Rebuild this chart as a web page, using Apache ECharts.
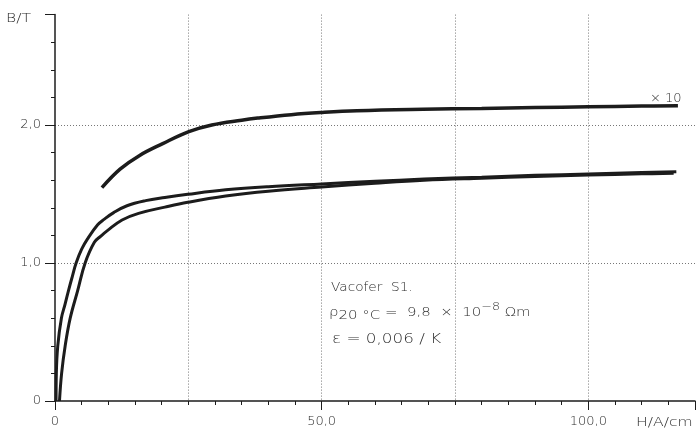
<!DOCTYPE html>
<html>
<head>
<meta charset="utf-8">
<script src="https://cdn.jsdelivr.net/npm/echarts@6/dist/echarts.min.js"></script>
<style>
  html, body { margin: 0; padding: 0; background: #fff; }
  #chart { width: 698px; height: 444px; }
</style>
</head>
<body>
<div id="chart"></div>
<script>
// Magnetisation curves B(H) of Vacofer S1 (H in A/cm, B in T)

// lower pair of curves, left branch
const hLowerA = [0.2, 0.25, 0.52, 1.2, 1.88, 2.53, 3.23, 3.96, 5.0, 6.1, 8.0, 9.2, 11.0, 13.5, 17.0, 20.6, 24.9, 32.0, 40.0, 50.0, 60.0, 69.2, 80.0, 90.0, 100.0, 110.0, 116.5];
const bLowerA = [0.0, 0.2, 0.4, 0.6, 0.7, 0.8, 0.9, 1.0, 1.1, 1.175, 1.277, 1.316, 1.365, 1.415, 1.452, 1.475, 1.498, 1.53, 1.553, 1.573, 1.592, 1.608, 1.622, 1.635, 1.645, 1.655, 1.662];

// lower pair of curves, right branch
const hLowerB = [0.84, 1.24, 1.91, 2.85, 4.25, 5.65, 7.38, 8.6, 9.82, 12.58, 15.67, 20.6, 24.9, 32.0, 40.0, 50.0, 60.0, 69.2, 80.0, 90.0, 100.0, 110.0, 116.0];
const bLowerB = [0.0, 0.2, 0.4, 0.6, 0.8, 1.0, 1.15, 1.195, 1.235, 1.312, 1.36, 1.405, 1.44, 1.485, 1.52, 1.55, 1.578, 1.60, 1.615, 1.627, 1.637, 1.646, 1.65];

// upper curve, H scale multiplied by 10
const hUpper = [8.8, 12.2, 15.8, 20.2, 25.1, 29.4, 35.0, 38.0, 44.3, 49.8, 56.6, 69.0, 80.0, 90.0, 100.0, 110.0, 116.8];
const bUpper = [1.546, 1.68, 1.778, 1.865, 1.952, 2.0, 2.035, 2.05, 2.075, 2.09, 2.103, 2.114, 2.12, 2.126, 2.132, 2.137, 2.14];

// labelled ticks
const xLabelValues = [0, 50, 100];
const xTickLabels = ['0', '50,0', '100,0'];
const yLabelValues = [0, 1, 2];
const yTickLabels = ['0', '1,0', '2,0'];

const FONT = "'DejaVu Sans', 'Liberation Sans', sans-serif";
const INK = '#1c1c1c';
const TEXT = '#2c2c2c';

function pairs(h, b) { return h.map((v, i) => [v, b[i]]); }
function pick(values, labels) {
  return function (v) {
    for (let i = 0; i < values.length; i++) {
      if (Math.abs(values[i] - v) < 1e-6) return labels[i];
    }
    return '';
  };
}

const gridLine = {
  show: true,
  showMinLine: false,
  showMaxLine: false,
  lineStyle: { color: '#777', type: [1, 2], width: 1 }
};

const curve = (data, width) => ({
  type: 'line',
  xAxisIndex: 0,
  yAxisIndex: 0,
  data: data,
  showSymbol: false,
  smooth: 0.4,
  lineStyle: { color: INK, width: width },
  z: 5
});

const labelStyle = { color: TEXT, fontSize: 13, fontFamily: FONT, fontWeight: 300 };

const chart = echarts.init(document.getElementById('chart'), null, { renderer: 'canvas' });
chart.setOption({
  animation: false,
  backgroundColor: '#fff',
  grid: { left: 55, right: -2, top: 14.6, bottom: 43 },
  xAxis: [
    { // axis line with minor ticks every 5 A/cm
      type: 'value', min: 0, max: 120, interval: 5, position: 'bottom',
      axisLine: { show: true, lineStyle: { color: INK, width: 1.5 } },
      axisTick: { show: true, length: 4, lineStyle: { color: INK, width: 1 } },
      axisLabel: { show: false },
      splitLine: { show: false }
    },
    { // major ticks and labels
      type: 'value', min: 0, max: 120, interval: 50, position: 'bottom',
      axisLine: { show: false },
      axisTick: { show: true, length: 9, lineStyle: { color: INK, width: 1 } },
      axisLabel: Object.assign({ show: true, margin: 14, formatter: pick(xLabelValues, xTickLabels) }, labelStyle),
      splitLine: { show: false }
    },
    { // dotted vertical grid every 25 A/cm
      type: 'value', min: 0, max: 120, interval: 25, position: 'bottom',
      axisLine: { show: false }, axisTick: { show: false }, axisLabel: { show: false },
      splitLine: gridLine
    }
  ],
  yAxis: [
    { // axis line with minor ticks every 0.2 T
      type: 'value', min: 0, max: 2.8, interval: 0.2, position: 'left',
      axisLine: { show: true, lineStyle: { color: INK, width: 1.5 } },
      axisTick: { show: true, length: 4, lineStyle: { color: INK, width: 1 } },
      axisLabel: { show: false },
      splitLine: { show: false }
    },
    { // major ticks, labels and dotted grid every 1 T
      type: 'value', min: 0, max: 2.8, interval: 1, position: 'left',
      axisLine: { show: false },
      axisTick: { show: true, length: 10, lineStyle: { color: INK, width: 1 } },
      axisLabel: Object.assign({ show: true, margin: 14, formatter: pick(yLabelValues, yTickLabels) }, labelStyle),
      splitLine: gridLine
    }
  ],
  series: [
    curve(pairs(hLowerA, bLowerA), 3),
    curve(pairs(hLowerB, bLowerB), 3),
    curve(pairs(hUpper, bUpper), 3.5)
  ],
  graphic: [
    { type: 'text', x: 6, y: 12, scaleX: 1.2, style: { text: 'B/T', font: '300 13px ' + FONT, fill: TEXT } },
    { type: 'text', x: 636, y: 416, scaleX: 1.2, style: { text: 'H/A/cm', font: '300 13px ' + FONT, fill: TEXT } },
    { type: 'text', x: 650, y: 92, style: { text: '× 10', font: '300 13px ' + FONT, fill: TEXT } },
    { type: 'text', x: 331, y: 281, scaleX: 1.05, style: { text: 'Vacofer  S1.', font: '300 13px ' + FONT, fill: TEXT } },
    { type: 'text', x: 329, y: 302, scaleX: 1.15, style: {
        text: '{m|ρ}{s|20 °C}{m| =  9,8  ×  10}{p|−8}{m| Ωm}',
        rich: {
          m: { fontSize: 13, fontWeight: 300, fontFamily: FONT, fill: TEXT, lineHeight: 22, verticalAlign: 'middle' },
          s: { fontSize: 13, fontWeight: 300, fontFamily: FONT, fill: TEXT, lineHeight: 22, verticalAlign: 'middle', padding: [5, 0, 0, 0] },
          p: { fontSize: 11, fontWeight: 300, fontFamily: FONT, fill: TEXT, lineHeight: 22, verticalAlign: 'top' }
        }
    } },
    { type: 'text', x: 332, y: 332, scaleX: 1.2, style: { text: 'ε = 0,006 / K', font: '300 14px ' + FONT, fill: TEXT } }
  ]
});
</script>
</body>
</html>
